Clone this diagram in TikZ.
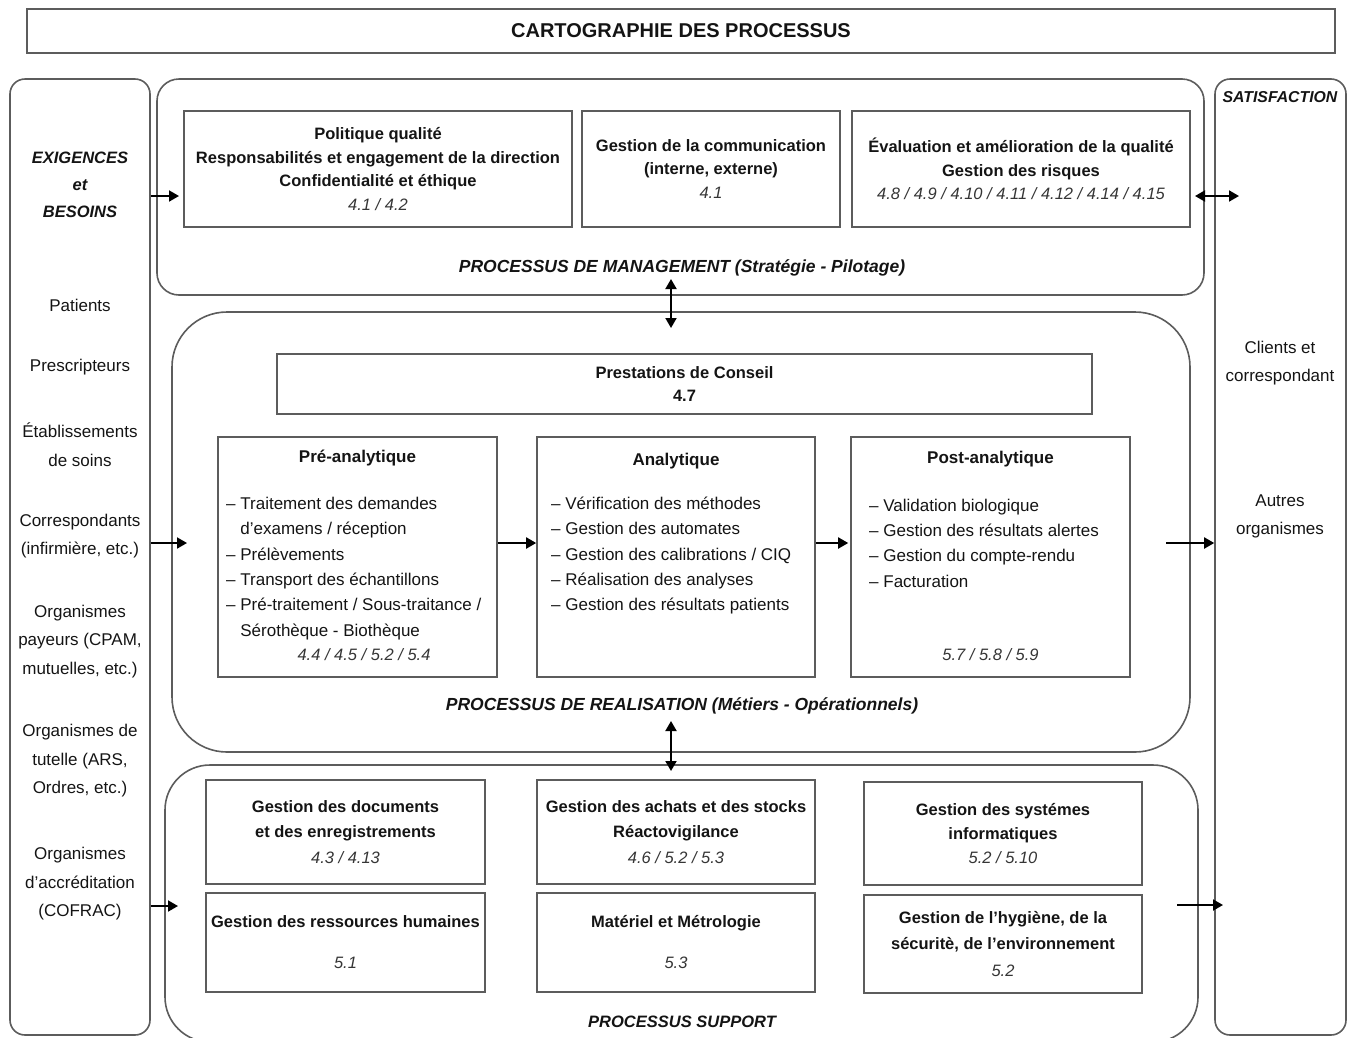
\documentclass[tikz,border=0pt]{standalone}
\usepackage{fontspec}
\setmainfont{Liberation Sans}
\usetikzlibrary{arrows.meta}
\definecolor{lg}{HTML}{5C5C5C}
\definecolor{tx}{HTML}{141414}
\definecolor{rc}{HTML}{353535}
\newcommand{\refnum}[1]{{\mdseries\itshape\color{rc}#1}}
\tikzset{
  frm/.style={draw=lg, line width=1.6pt},
  bx/.style={draw=lg, line width=1.6pt, inner sep=0pt, align=center, text=tx,
    font=\bfseries\fontsize{16.5}{23.5}\selectfont},
  arr/.style={line width=1.9pt, -{Triangle[length=10pt,width=11pt]}},
  darr/.style={line width=1.9pt, {Triangle[length=10pt,width=11pt]}-{Triangle[length=10pt,width=11pt]}},
  lbl/.style={font=\bfseries\itshape\fontsize{16.5}{27}\selectfont, text=tx, inner sep=0pt, align=center},
  side/.style={font=\fontsize{17}{28.5}\selectfont, align=center, text=tx, inner sep=0pt},
  ttl/.style={font=\bfseries\fontsize{17}{25}\selectfont, text=tx, inner sep=0pt},
  items/.style={font=\fontsize{17}{25.3}\selectfont, align=left, text=tx, inner sep=0pt, anchor=west}
}
\begin{document}
\begin{tikzpicture}[x=1pt,y=-1pt]
\useasboundingbox (0,0) rectangle (1354,1037);
% title
\node[frm, minimum width=1308pt, minimum height=44pt, inner sep=0pt,
  font=\bfseries\fontsize{20}{22}\selectfont, text=tx] (title) at (681,31) {CARTOGRAPHIE DES PROCESSUS};
% side columns
\node[frm, rounded corners=15pt, minimum width=140pt, minimum height=956pt] (left) at (80,557) {};
\node[frm, rounded corners=15pt, minimum width=131pt, minimum height=956pt] (right) at (1280.5,557) {};
% containers
\node[frm, rounded corners=22pt, minimum width=1047pt, minimum height=216pt] (mgmt) at (680.5,187) {};
\node[frm, rounded corners=55pt, minimum width=1018pt, minimum height=440pt] (real) at (681,532) {};
\node[frm, rounded corners=45pt, minimum width=1033pt, minimum height=277pt] (supp) at (681.5,903.5) {};
% management boxes
\node[bx, minimum width=388pt, minimum height=116pt] (m1) at (378,169)
  {Politique qualité\\Responsabilités et engagement de la direction\\Confidentialité et éthique\\\refnum{4.1 / 4.2}};
\node[bx, minimum width=258pt, minimum height=116pt] (m2) at (711,169)
  {Gestion de la communication\\(interne, externe)\\\refnum{4.1}};
\node[bx, minimum width=338pt, minimum height=116pt] (m3) at (1021,169)
  {Évaluation et amélioration de la qualité\\Gestion des risques\\\refnum{4.8 / 4.9 / 4.10 / 4.11 / 4.12 / 4.14 / 4.15}};
\node[lbl, font=\bfseries\itshape\fontsize{17.5}{27}\selectfont] (lmgmt) at (682,268) {PROCESSUS DE MANAGEMENT (Stratégie - Pilotage)};
% realisation
\node[bx, minimum width=815pt, minimum height=60pt] (prest) at (684.5,384) {Prestations de Conseil\\4.7};
\node[bx, minimum width=279pt, minimum height=240pt] (pre) at (357.5,557) {};
\node[bx, minimum width=278pt, minimum height=240pt] (ana) at (676,557) {};
\node[bx, minimum width=279pt, minimum height=240pt] (post) at (990.5,557) {};
\node[ttl] (tpre) at (357.5,458) {Pré-analytique};
\node[ttl] (tana) at (676,461) {Analytique};
\node[ttl] (tpost) at (990.5,459) {Post-analytique};
\node[items] (ipre) at (226,568.5) {– Traitement des demandes\\\phantom{– }d'examens / réception\\– Prélèvements\\– Transport des échantillons\\– Pré-traitement / Sous-traitance /\\\phantom{– }Sérothèque - Biothèque};
\node[items] (iana) at (551,555.5) {– Vérification des méthodes\\– Gestion des automates\\– Gestion des calibrations / CIQ\\– Réalisation des analyses\\– Gestion des résultats patients};
\node[items] (ipost) at (869,543) {– Validation biologique\\– Gestion des résultats alertes\\– Gestion du compte-rendu\\– Facturation};
\node[inner sep=0pt, font=\itshape\fontsize{16.5}{20}\selectfont, text=rc] (rpre) at (364,655) {4.4 / 4.5 / 5.2 / 5.4};
\node[inner sep=0pt, font=\itshape\fontsize{16.5}{20}\selectfont, text=rc] (rpost) at (990.5,655) {5.7 / 5.8 / 5.9};
\node[lbl, font=\bfseries\itshape\fontsize{17.5}{27}\selectfont] (lreal) at (682,706) {PROCESSUS DE REALISATION (Métiers - Opérationnels)};
% support
\node[bx, minimum width=279pt, minimum height=104pt, font=\bfseries\fontsize{16.5}{25.5}\selectfont] (s1a) at (345.5,832)
  {Gestion des documents\\et des enregistrements\\\refnum{4.3 / 4.13}};
\node[bx, minimum width=279pt, minimum height=99pt, font=\bfseries\fontsize{16.5}{41}\selectfont] (s1b) at (345.5,942.5)
  {Gestion des ressources humaines\\\refnum{5.1}};
\node[bx, minimum width=278pt, minimum height=104pt, font=\bfseries\fontsize{16.5}{25.5}\selectfont] (s2a) at (676,832)
  {Gestion des achats et des stocks\\Réactovigilance\\\refnum{4.6 / 5.2 / 5.3}};
\node[bx, minimum width=278pt, minimum height=99pt, font=\bfseries\fontsize{16.5}{41}\selectfont] (s2b) at (676,942.5)
  {Matériel et Métrologie\\\refnum{5.3}};
\node[bx, minimum width=278pt, minimum height=103pt, font=\bfseries\fontsize{16.5}{24}\selectfont] (s3a) at (1003,833.5)
  {Gestion des systémes\\informatiques\\\refnum{5.2 / 5.10}};
\node[bx, minimum width=278pt, minimum height=98pt, font=\bfseries\fontsize{16.5}{26.5}\selectfont] (s3b) at (1003,944)
  {Gestion de l'hygiène, de la\\sécuritè, de l'environnement\\\refnum{5.2}};
\node[lbl] (lsupp) at (682,1022) {PROCESSUS SUPPORT};
% side texts
\node[lbl] (exig) at (80,185) {EXIGENCES\\et\\BESOINS};
\node[side] (pat) at (80,305) {Patients};
\node[side] (presc) at (80,367) {Prescripteurs};
\node[side] (etab) at (80,444.5) {Établissements\\de soins};
\node[side] (corr) at (80,536) {Correspondants\\(infirmière, etc.)};
\node[side] (pay) at (80,641.5) {Organismes\\payeurs (CPAM,\\mutuelles, etc.)};
\node[side] (tut) at (80,761) {Organismes de\\tutelle (ARS,\\Ordres, etc.)};
\node[side] (accr) at (80,884) {Organismes\\d'accréditation\\(COFRAC)};
\node[lbl, font=\bfseries\itshape\fontsize{15.8}{20}\selectfont] (satis) at (1280,97) {SATISFACTION};
\node[side] (cli) at (1280,363) {Clients et\\correspondant};
\node[side] (autres) at (1280,516.5) {Autres\\organismes};
% coordinates for connectors
\coordinate (e1) at (179,196);
\coordinate (e2) at (187,543);
\coordinate (e3) at (178,906);
\coordinate (d1a) at (1195,196);
\coordinate (d1b) at (1239,196);
\coordinate (o2) at (1166,543);
\coordinate (o3) at (1177,905);
\coordinate (o3b) at (1223,905);
\coordinate (v1a) at (671,279);
\coordinate (v1b) at (671,328);
\coordinate (v2a) at (671,721);
\coordinate (v2b) at (671,771);
\coordinate (row) at (0,543);
% connectors
\draw[arr] (left.east |- e1) -- (e1);
\draw[arr] (left.east |- e2) -- (e2);
\draw[arr] (left.east |- e3) -- (e3);
\draw[darr] (d1a) -- (d1b);
\draw[arr] (o2) -- (right.west |- o2);
\draw[arr] (o3) -- (o3b);
\draw[arr] (pre.east |- row) -- (ana.west |- row);
\draw[arr, shorten >=2pt] (ana.east |- row) -- (post.west |- row);
\draw[darr] (v1a) -- (v1b);
\draw[darr] (v2a) -- (v2b);
\end{tikzpicture}
\end{document}
